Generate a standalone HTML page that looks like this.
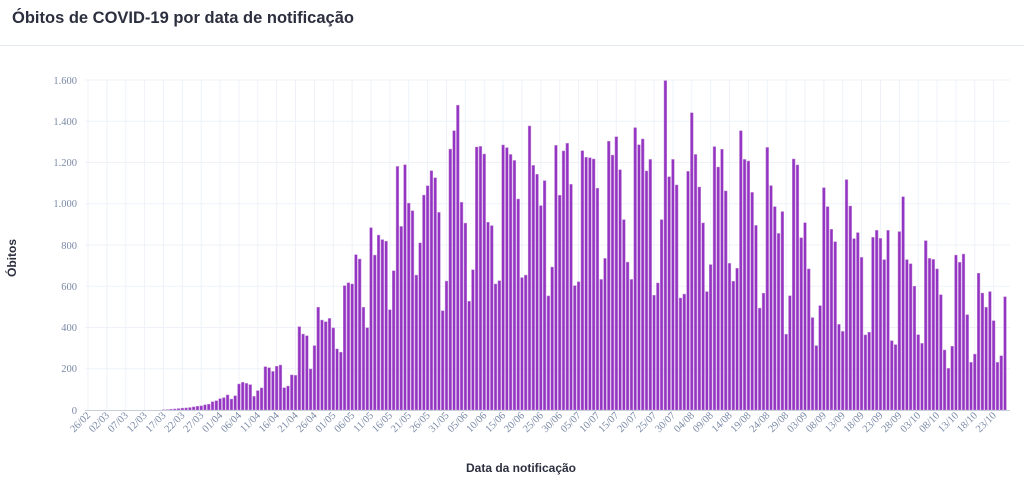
<!DOCTYPE html>
<html><head><meta charset="utf-8"><style>
body{margin:0;background:#fff;width:1024px;height:491px;overflow:hidden;font-family:"Liberation Sans",sans-serif}
.t{position:absolute;left:12px;top:9px;font-size:16.5px;font-weight:bold;color:#2b2f3e}
.hr{position:absolute;left:0;top:45px;width:1024px;height:1px;background:#e6ebf2}
svg{position:absolute;left:0;top:0}
.yl{font-family:"Liberation Serif",serif;font-size:10.5px;fill:#7a89a6}
.xl{font-family:"Liberation Serif",serif;font-size:10.5px;fill:#7a89a6}
.ax{font-family:"Liberation Sans",sans-serif;font-size:12px;font-weight:bold;fill:#2b2f3e}
</style></head><body>
<div class="t">Óbitos de COVID-19 por data de notificação</div>
<div class="hr"></div>
<svg width="1024" height="491" id="s">
<g id="grid"></g>
<g id="bars"></g>
<line x1="85" y1="410.5" x2="1010" y2="410.5" stroke="#c8ced8" stroke-width="1"/>
<g class="yl" text-anchor="end">
<text x="77" y="414">0</text><text x="77" y="372">200</text><text x="77" y="331">400</text><text x="77" y="290">600</text><text x="77" y="249">800</text><text x="77" y="207">1.000</text><text x="77" y="166">1.200</text><text x="77" y="125">1.400</text><text x="77" y="84">1.600</text>
</g>
<g class="xl" id="xl" text-anchor="end">
<text>26/02</text><text>02/03</text><text>07/03</text><text>12/03</text><text>17/03</text><text>22/03</text><text>27/03</text><text>01/04</text><text>06/04</text><text>11/04</text><text>16/04</text><text>21/04</text><text>26/04</text><text>01/05</text><text>06/05</text><text>11/05</text><text>16/05</text><text>21/05</text><text>26/05</text><text>31/05</text><text>05/06</text><text>10/06</text><text>15/06</text><text>20/06</text><text>25/06</text><text>30/06</text><text>05/07</text><text>10/07</text><text>15/07</text><text>20/07</text><text>25/07</text><text>30/07</text><text>04/08</text><text>09/08</text><text>14/08</text><text>19/08</text><text>24/08</text><text>29/08</text><text>03/09</text><text>08/09</text><text>13/09</text><text>18/09</text><text>23/09</text><text>28/09</text><text>03/10</text><text>08/10</text><text>13/10</text><text>18/10</text><text>23/10</text>
</g>
<text class="ax" transform="translate(16,258) rotate(-90)" text-anchor="middle">Óbitos</text>
<text class="ax" x="521" y="472" text-anchor="middle">Data da notificação</text>
</svg>
<script>
var d=[0,0,0,0,0,0,0,0,0,0,0,0,0,0,0,0,0,0,0,0,1,2,4,5,7,9,10,12,15,18,20,25,28,40,45,55,60,
73,53,69,126,134,129,123,66,94,107,210,205,187,212,218,108,116,170,168,404,368,360,199,312,498,436,428,444,398,296,280,603,617,611,753,732,498,399,884,751,848,826,818,486,675,1181,890,1189,1003,966,654,810,1042,1087,1160,1126,958,481,625,1265,1354,1478,1007,906,527,680,1275,1278,1241,910,
894,611,627,1285,1272,1239,1210,1023,642,654,1377,1186,1143,991,1112,553,693,1283,1041,1256,1293,1094,603,622,1257,1225,1223,1217,1075,633,735,1303,1236,1325,1165,923,717,633,1369,1286,1314,1159,1215,556,616,923,1597,1131,1215,1091,543,562,1157,1441,1239,1081,907,574,705,1277,1178,1264,1062,711,624,687,
1354,1215,1207,1055,895,494,566,1273,1088,986,856,962,367,554,1217,1188,835,908,684,448,312,506,1078,986,876,816,415,381,1117,989,831,860,740,364,377,837,871,832,729,871,336,317,865,1034,729,709,600,365,323,821,735,730,684,559,291,202,309,751,716,756,462,231,271,663,567,498,574,433,231,263,549];
var n=d.length,x0=88,x1=1005,s=(x1-x0)/(n-1),k=0.20625,h='',g='';
for(var i=0;i<n;i++){var v=d[i];if(v<=0)continue;var hh=v*k;h+='<rect x="'+(x0+i*s-1.35).toFixed(2)+'" y="'+(410-hh).toFixed(2)+'" width="2.7" height="'+hh.toFixed(2)+'" fill="#9434c2" stroke="#c08ad8" stroke-width="0.5"/>';}
document.getElementById('bars').innerHTML=h;
for(var j=1;j<=8;j++){var y=410-j*200*k;g+='<line x1="85" x2="1010" y1="'+y+'" y2="'+y+'" stroke="#eef2f8"/>';}
var ts=document.getElementById('xl').children;
for(var t=0;t<ts.length;t++){var x=x0+t*5*s;g+='<line x1="'+x+'" x2="'+x+'" y1="80" y2="410" stroke="#eef2f8"/>';ts[t].setAttribute('transform','translate('+(x+3)+',416) rotate(-45)');}
document.getElementById('grid').innerHTML=g;
</script>
</body></html>
